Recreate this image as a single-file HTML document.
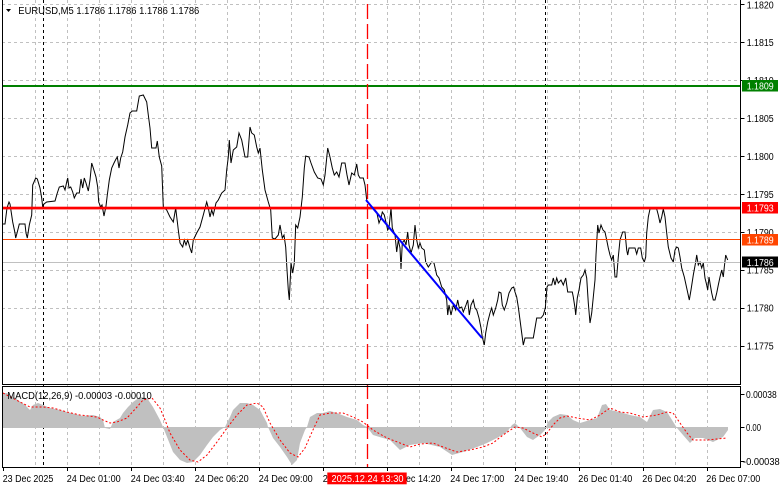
<!DOCTYPE html>
<html><head><meta charset="utf-8"><style>
html,body{margin:0;padding:0;background:#fff;}
svg{display:block;}
text{font-family:"Liberation Sans",sans-serif;font-size:10px;fill:#000;}
</style></head><body>
<svg width="781" height="489" viewBox="0 0 781 489" xmlns="http://www.w3.org/2000/svg">
<rect x="0" y="0" width="781" height="489" fill="#fff"/>
<!-- vertical grid -->
<g stroke="#c0c0c0" stroke-width="1" stroke-dasharray="3,3" shape-rendering="crispEdges">
<path d="M35.5 0V467M67.5 0V467M99.5 0V467M131.5 0V467M163.5 0V467M195.5 0V467M227.5 0V467M259.5 0V467M291.5 0V467M323.5 0V467M355.5 0V467M387.5 0V467M419.5 0V467M451.5 0V467M483.5 0V467M515.5 0V467M547.5 0V467M579.5 0V467M611.5 0V467M643.5 0V467M675.5 0V467M707.5 0V467"/>
<path d="M2 4.5H741M2 42.5H741M2 80.5H741M2 118.5H741M2 156.5H741M2 194.5H741M2 232.5H741M2 270.5H741M2 308.5H741M2 346.5H741"/>
</g>
<!-- day separators -->
<g stroke="#000" stroke-width="1" stroke-dasharray="3,3" shape-rendering="crispEdges">
<path d="M43.5 0V467M545.5 0V467"/>
</g>
<!-- MACD histogram -->
<polygon fill="#c0c0c0" points="3,427 3,393 7,393 15,398 25,405 30,410 33,405 38,403 43,405 50,408 60,410 67,412 75,414 83,416 93,415 100,417 103,420 105,428 110,429 113,422 120,418 123,413 128,407 133,402 140,397 147,398 153,407 160,420 163,427 167,437 173,452 180,460 187,463 193,462 200,455 207,445 213,437 220,430 225,427 230,417 233,410 240,403 247,403 253,405 260,410 267,423 268,427 273,438 280,447 287,457 292,465 297,460 300,443 305,430 307,427 310,417 317,413 323,413 330,411 337,413 347,417 357,420 363,425 367,427 373,435 383,438 390,440 400,450 410,445 423,443 440,447 452,455 463,452 477,447 487,443 497,438 507,432 512,425 515,423 520,428 527,437 533,440 540,435 545,430 548,422 553,417 560,414 567,415 573,420 580,423 590,420 597,418 602,405 606,404 610,410 620,412 630,415 640,417 647,422 653,410 660,409 667,412 672,420 677,428 683,435 690,443 695,438 703,438 713,442 723,437 728,430 728,427"/>
<line x1="3" y1="427.5" x2="728" y2="427.5" stroke="#c0c0c0" stroke-width="1"/>
<!-- MACD signal -->
<polyline fill="none" stroke="#ff0000" stroke-width="1" stroke-dasharray="2,2" points="3,393 20,402 30,407 43,407 53,408 67,412 80,415 97,417 103,420 110,423 117,422 127,418 137,407 143,400 152,398 160,408 165,420 170,433 180,450 190,460 198,462 207,455 217,442 227,428 237,415 247,405 257,403 263,407 270,423 280,440 290,453 298,457 305,448 312,432 320,415 330,413 343,413 353,417 363,422 373,430 387,438 400,443 410,447 420,444 433,443 443,447 457,452 470,450 483,447 493,443 503,435 515,427 523,428 533,433 542,437 547,433 553,425 560,418 567,416 577,418 590,420 600,415 610,408 620,412 630,413 643,417 657,415 667,412 673,413 680,423 687,433 693,440 707,440 717,439 727,438"/>
<!-- price line -->
<polyline fill="none" stroke="#000" stroke-width="1" stroke-linejoin="miter" points="3,224 5,224 7,208 9,202 10,204 12.7,222 15,233 15.7,238 17.3,232 19.3,224 25,224 26,233 27.3,238 29.3,225 31.7,215 32.7,185 35.7,178 37.3,179 40,188 41.7,198 42.7,207 44,204 46.7,202 55,201 57.3,193 59.3,187 63.3,186 65,190 66.7,182 67.7,178 69,188 70.7,187 72.7,192 74.3,198 76.7,193 79.3,193 81,179 82.7,188 84.3,178 86,183 88.3,191 90,180 91.7,163 93.3,168 96,177 97.7,187 98.7,202 100.7,207 102,205 104,216 106,206 107.3,195 109.3,180 111.7,168 114,163 116,159 117.3,157 119,168 120.7,158 122.7,152 125,137 127.7,125 130,113 132.3,111 136.7,111 139.3,96 143.3,95 146.7,102 148.3,115 150,128 151.7,148 156,148 157.3,141 159.3,157 161.7,166 163.3,207 166.7,210 170,217 173.3,222 175.7,208 178.3,230 180,243 182.7,247 184.3,240 186,245 187.7,240 190,248 191.7,253 193.3,240 196.7,233 200,227 203.3,215 206.7,202 208.3,208 210,217 211.7,210 213.3,215 216,203 218.3,200 221.7,193 225,190 226.7,170 228.3,157 229.3,140 231,163 233.3,150 236.7,147 239,133 241.7,140 245,157 247.7,157 250,127 251.7,133 254.3,135 256.7,147 258.3,153 260,148 262.3,170 265,190 268.3,202 270.7,210 272.3,238 275,239 278.3,235 280,225 282.3,238 284,235 285.7,247 286.7,265 288.3,290 289.3,300 291,263 292.7,273 294.3,263 295.7,225 297.7,228 300,217 302.3,197 304.3,168 305.7,156 309,157 311,163 314.3,172 317.7,178 321,179 323.3,185 325,175 327.7,148 330,157 332.3,168 334.3,175 336.7,172 339,177 341.7,163 345,163 347,175 349,185 351.7,173 354.3,175 356.7,164 358.3,175 360,178 363.3,178 365,185 366.7,200 370,205 373.3,208 376.7,212 379,223 381,218 382.3,212 384.3,215 387.7,230 389,228 391,208 392.3,228 395,235 396.7,252 398.3,240 400,248 401,269 402.3,243 404.3,240 406,245 407.7,232 409,245 411,253 413.3,245 415,225 416.7,240 418.3,248 420,243 421.7,248 424.3,250 425.7,262 428.3,267 431.7,262 434,263 436.7,275 439,278 441.7,287 444.3,290 446.7,300 447.7,315 449,305 451,315 453.3,305 455.7,310 457.7,300 459.3,308 461.7,307 463.3,312 466,305 467.7,300 469.3,315 471,305 473.3,300 475,308 476.7,310 479,318 481,328 482.3,337 484.3,345 485.7,333 487.7,322 490,313 491.7,308 493.3,315 495.7,308 497.7,300 499,292 501,293 502.3,305 504.3,310 506.7,303 509,293 511.7,288 513.7,287 515,292 516.7,297 518.3,307 520,320 521.7,333 523.3,345 525,338 533.3,338 535,328 536.7,318 541,318 543.3,315 545.3,308 547,287 548.3,285 551.7,285 553.3,278 555,285 556.7,278 558.3,283 561,280 563.3,285 565.7,278 567.7,292 572.3,292 573.3,297 575,308 575.7,315 577.3,298 579,290 581,278 583.3,275 585,270 586.7,278 588.3,303 590,323 591.7,313 593.3,297 595,280 596,255 597.7,225 599,233 601,225 603,230 605,232 606.7,240 608.3,248 610,255 611.7,260 613.3,255 615,277 616.7,277 618.3,257 620,240 622.7,232 625,232 626.7,250 627.7,255 629,248 635,248 636.7,254 638.3,248 640.7,248 642.3,258 644.3,262 645.7,257 646.7,233 648.3,217 650,209 656.7,209 658.3,215 660,223 661.7,217 663.3,209 665,217 666.7,233 668.3,247 671,258 673.3,262 675,250 676.7,247 678.3,248 680,257 681.7,268 684.3,277 686.7,288 689.3,300 691,290 693.3,275 695.7,262 696.7,255 698.3,265 700,262 701.7,268 703.3,263 705,278 706.7,285 707.7,290 709,277 710.3,285 711.7,293 713.3,300 715,300 716.7,293 718.3,285 720,277 721.7,270 723.3,277 724.3,267 725.7,255 727.7,260"/>
<!-- levels -->
<rect x="2" y="85" width="739" height="2" fill="#008000"/>
<rect x="2" y="206.7" width="739" height="2.7" fill="#ff0000"/>
<line x1="2" y1="239.5" x2="741" y2="239.5" stroke="#ff4500" stroke-width="1"/>
<line x1="2" y1="262.5" x2="741" y2="262.5" stroke="#c0c0c0" stroke-width="1"/>
<!-- trend line -->
<line x1="366" y1="200" x2="482" y2="338" stroke="#0000ff" stroke-width="2"/>
<!-- red vertical -->
<line x1="367.5" y1="4" x2="367.5" y2="467" stroke="#ff0000" stroke-width="1.3" stroke-dasharray="15,5"/>
<!-- borders -->
<g stroke="#000" stroke-width="1" fill="none" shape-rendering="crispEdges">
<path d="M2.5 0V384.5H740.5V0"/>
<path d="M2.5 386.5H740.5V467.5H2.5Z"/>
<path d="M740.5 4.5h4M740.5 42.5h4M740.5 80.5h4M740.5 118.5h4M740.5 156.5h4M740.5 194.5h4M740.5 232.5h4M740.5 270.5h4M740.5 308.5h4M740.5 346.5h4M740.5 394.5h4M740.5 427.5h4M740.5 461.5h4"/>
<path d="M3.5 467v4M67.5 467v4M131.5 467v4M195.5 467v4M259.5 467v4M323.5 467v4M387.5 467v4M451.5 467v4M515.5 467v4M579.5 467v4M643.5 467v4M707.5 467v4"/>
</g>
<!-- header -->
<polygon points="6,9 11,9 8.5,12" fill="#000"/>
<text x="18.3" y="14" textLength="181" lengthAdjust="spacingAndGlyphs">EURUSD,M5  1.1786 1.1786 1.1786 1.1786</text>
<text x="7.3" y="399" textLength="144.4" lengthAdjust="spacingAndGlyphs">MACD(12,26,9) -0.00003 -0.00010</text>
<!-- price axis labels -->
<g>
<text x="746.7" y="8.5" textLength="27" lengthAdjust="spacingAndGlyphs">1.1820</text>
<text x="746.7" y="46.2" textLength="27" lengthAdjust="spacingAndGlyphs">1.1815</text>
<text x="746.7" y="84.2" textLength="27" lengthAdjust="spacingAndGlyphs">1.1810</text>
<text x="746.7" y="122.1" textLength="27" lengthAdjust="spacingAndGlyphs">1.1805</text>
<text x="746.7" y="160" textLength="27" lengthAdjust="spacingAndGlyphs">1.1800</text>
<text x="746.7" y="197.9" textLength="27" lengthAdjust="spacingAndGlyphs">1.1795</text>
<text x="746.7" y="235.8" textLength="27" lengthAdjust="spacingAndGlyphs">1.1790</text>
<text x="746.7" y="273.7" textLength="27" lengthAdjust="spacingAndGlyphs">1.1785</text>
<text x="746.7" y="311.6" textLength="27" lengthAdjust="spacingAndGlyphs">1.1780</text>
<text x="746.7" y="349.5" textLength="27" lengthAdjust="spacingAndGlyphs">1.1775</text>
</g>
<rect x="742" y="80" width="36" height="11.5" fill="#008000"/>
<text x="746.7" y="89.6" textLength="27" lengthAdjust="spacingAndGlyphs" style="fill:#fff">1.1809</text>
<rect x="742" y="202" width="36" height="11.5" fill="#ff0000"/>
<text x="746.7" y="211.6" textLength="27" lengthAdjust="spacingAndGlyphs" style="fill:#fff">1.1793</text>
<rect x="742" y="234" width="36" height="11.5" fill="#ff4500"/>
<text x="746.7" y="243.6" textLength="27" lengthAdjust="spacingAndGlyphs" style="fill:#fff">1.1789</text>
<rect x="742" y="256.5" width="36" height="11" fill="#000"/>
<text x="746.7" y="265.8" textLength="27" lengthAdjust="spacingAndGlyphs" style="fill:#fff">1.1786</text>
<!-- macd axis -->
<text x="746" y="397.8" textLength="30.7" lengthAdjust="spacingAndGlyphs">0.00038</text>
<text x="746" y="431" textLength="15" lengthAdjust="spacingAndGlyphs">0.00</text>
<text x="743" y="465" textLength="36.7" lengthAdjust="spacingAndGlyphs">-0.00038</text>
<!-- time axis -->
<g>
<text x="2.7" y="482" textLength="50.6" lengthAdjust="spacingAndGlyphs">23 Dec 2025</text>
<text x="66.7" y="482" textLength="54" lengthAdjust="spacingAndGlyphs">24 Dec 01:00</text>
<text x="130.7" y="482" textLength="54" lengthAdjust="spacingAndGlyphs">24 Dec 03:40</text>
<text x="194.7" y="482" textLength="54" lengthAdjust="spacingAndGlyphs">24 Dec 06:20</text>
<text x="258.7" y="482" textLength="54" lengthAdjust="spacingAndGlyphs">24 Dec 09:00</text>
<text x="322.7" y="482" textLength="54" lengthAdjust="spacingAndGlyphs">24 Dec 11:40</text>
<text x="386.7" y="482" textLength="54" lengthAdjust="spacingAndGlyphs">24 Dec 14:20</text>
<text x="450.3" y="482" textLength="54" lengthAdjust="spacingAndGlyphs">24 Dec 17:00</text>
<text x="514.3" y="482" textLength="54" lengthAdjust="spacingAndGlyphs">24 Dec 19:40</text>
<text x="578.3" y="482" textLength="54" lengthAdjust="spacingAndGlyphs">26 Dec 01:40</text>
<text x="642.3" y="482" textLength="54" lengthAdjust="spacingAndGlyphs">26 Dec 04:20</text>
<text x="706.3" y="482" textLength="54" lengthAdjust="spacingAndGlyphs">26 Dec 07:00</text>
</g>
<rect x="327.3" y="472.5" width="79.4" height="11.8" fill="#ff0000"/>
<text x="331.5" y="482" textLength="72" lengthAdjust="spacingAndGlyphs" style="fill:#fff">2025.12.24 13:30</text>
</svg>
</body></html>
